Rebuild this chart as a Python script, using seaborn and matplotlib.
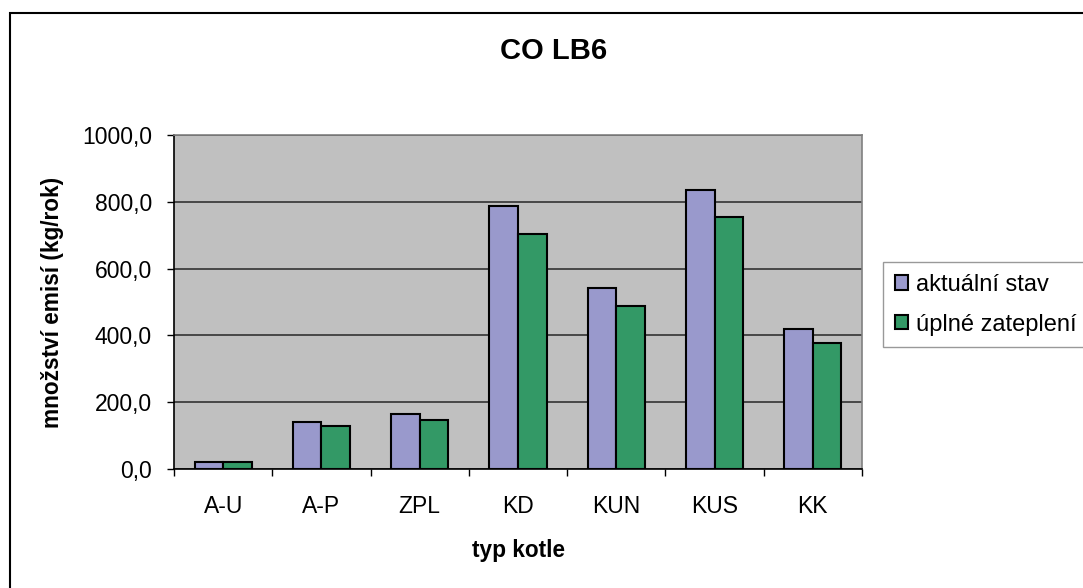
import numpy as np
import pandas as pd
import matplotlib
matplotlib.use("Agg")
import matplotlib.pyplot as plt
from matplotlib.patches import Rectangle
from matplotlib.ticker import FuncFormatter, FixedLocator
import seaborn as sns

# data
categories = ["A-U", "A-P", "ZPL", "KD", "KUN", "KUS", "KK"]
aktualni = [22, 142, 166, 788, 543, 836, 418]
uplne = [22, 130, 148, 704, 489, 753, 376]
series = ["aktuální stav", "úplné zateplení"]
colors = ["#9999CC", "#339966"]

df = pd.DataFrame({
    "typ": categories * 2,
    "serie": [series[0]] * len(categories) + [series[1]] * len(categories),
    "hodnota": aktualni + uplne,
})

sns.set_theme(style="white")
plt.rcParams['font.family'] = ['Liberation Sans', 'DejaVu Sans']
for key in ["text.color", "axes.labelcolor", "xtick.color", "ytick.color"]:
    plt.rcParams[key] = "black"

fig = plt.figure(figsize=(10.83, 5.88), dpi=100)
ax = fig.add_axes([174 / 1083, 1 - 469 / 588, 688 / 1083, 334 / 588])
ax.set_facecolor("#C0C0C0")

sns.barplot(data=df, x="typ", y="hodnota", hue="serie", palette=colors,
            saturation=1, width=0.58, edgecolor="black", linewidth=1.5,
            ax=ax, zorder=3)

ax.set_ylim(0, 1000)
ax.set_xlim(-0.5, len(categories) - 0.5)
ax.set_yticks(np.arange(0, 1001, 200))
ax.yaxis.set_major_formatter(FuncFormatter(lambda v, p: f"{v:.1f}".replace(".", ",")))
ax.grid(axis="y", color="#333333", linewidth=1.2, zorder=1)
ax.set_axisbelow(True)

# ticks between categories on x axis
ax.xaxis.set_minor_locator(FixedLocator(np.arange(-0.5, len(categories), 1)))
ax.tick_params(axis="x", which="major", length=0, pad=19, labelsize=16.5)
ax.tick_params(axis="x", which="minor", length=5, width=1, color="black", bottom=True)
ax.tick_params(axis="y", length=5, width=1, color="black", left=True, labelsize=16.5, pad=11)

for side in ["left", "bottom"]:
    ax.spines[side].set_color("black")
    ax.spines[side].set_linewidth(1.2)
for side in ["top", "right"]:
    ax.spines[side].set_color("#808080")
    ax.spines[side].set_linewidth(1.2)

ax.set_xlabel("typ kotle", fontsize=16.3, fontweight="bold")
ax.set_ylabel("množství emisí (kg/rok)", fontsize=16.3, fontweight="bold")
ax.xaxis.set_label_coords(518 / 1083, 1 - 539 / 588, transform=fig.transFigure)
ax.yaxis.set_label_coords(64 / 1083, 1 - 302 / 588, transform=fig.transFigure)

fig.text(554 / 1083, 1 - 51 / 588, "CO LB6", ha="center", va="center",
         fontsize=21, fontweight="bold")

leg = ax.legend(loc="upper left", bbox_to_anchor=(883 / 1083, 1 - 262 / 588),
                bbox_transform=fig.transFigure, frameon=True, fancybox=False,
                fontsize=17, handlelength=0.55, handleheight=0.55, handletextpad=0.35,
                labelspacing=0.75, borderpad=0.5, borderaxespad=0)
leg.get_frame().set_edgecolor("#808080")
leg.get_frame().set_linewidth(1.0)
for h in leg.legend_handles:
    h.set_edgecolor("black")
    h.set_linewidth(1.5)

# outer chart frame (cut off on the right and bottom)
frame = Rectangle((10 / 1083, -0.1), 1.2, (1 - 13 / 588) + 0.1,
                  transform=fig.transFigure, fill=False, edgecolor="black",
                  linewidth=1.5, clip_on=False)
fig.patches.append(frame)

fig.savefig("out.png", dpi=100)
